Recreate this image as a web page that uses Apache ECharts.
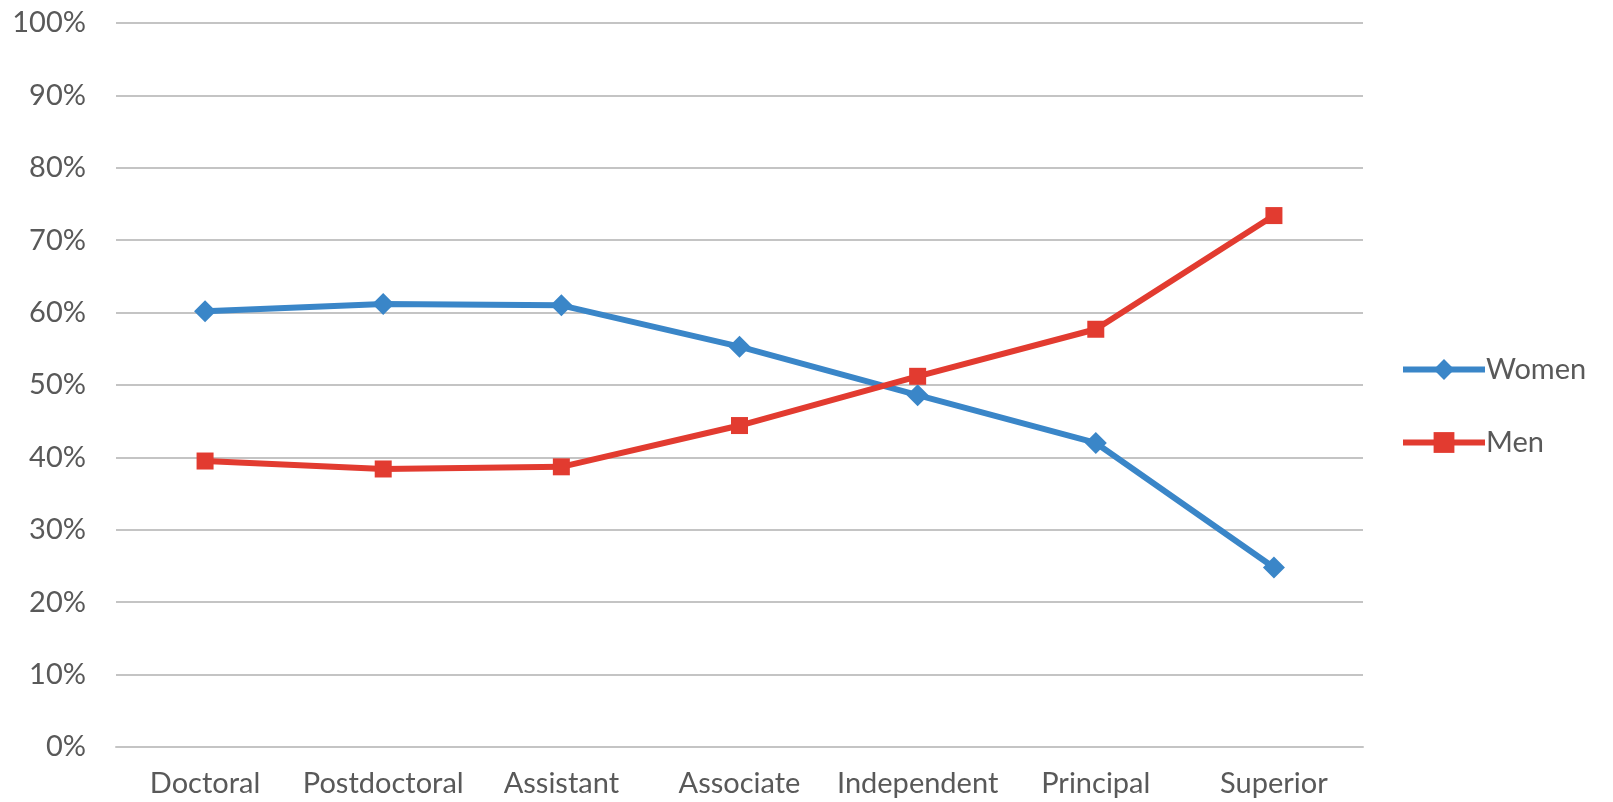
<!DOCTYPE html>
<html>
<head>
<meta charset="utf-8">
<script src="https://cdn.jsdelivr.net/npm/echarts@6/dist/echarts.min.js"></script>
<style>
  html, body { margin: 0; padding: 0; background: #ffffff; }
  #chart { width: 1613px; height: 802px; }
</style>
</head>
<body>
<div id="chart"></div>
<script>
// Career stages along the x axis
const categories = ['Doctoral', 'Postdoctoral', 'Assistant', 'Associate', 'Independent', 'Principal', 'Superior'];
// Share of each gender at each stage (percent)
const women = [60.2, 61.2, 61.0, 55.3, 48.6, 42.0, 24.8];
const men = [39.5, 38.4, 38.7, 44.4, 51.2, 57.7, 73.4];

const textColor = '#595959';
const fontFamily = 'Lato, "Open Sans", sans-serif';

const chart = echarts.init(document.getElementById('chart'));
chart.setOption({
  animation: false,
  backgroundColor: '#ffffff',
  grid: { left: 116, right: 250, top: 23, bottom: 55 },
  legend: {
    orient: 'vertical',
    left: 1395,
    top: 350,
    itemWidth: 82,
    itemHeight: 26,
    itemGap: 44,
    lineStyle: { width: 6 },
    textStyle: { color: textColor, fontSize: 29, fontFamily: fontFamily, padding: [0, 0, 0, -4] },
    data: ['Women', 'Men']
  },
  xAxis: {
    type: 'category',
    data: categories,
    boundaryGap: true,
    axisLine: { show: true, lineStyle: { color: '#c4c4c4', width: 2 } },
    axisTick: { show: false },
    axisLabel: { interval: 0, color: textColor, fontSize: 29, fontFamily: fontFamily, margin: 22 }
  },
  yAxis: {
    type: 'value',
    min: 0,
    max: 100,
    interval: 10,
    axisLine: { show: false },
    axisTick: { show: false },
    splitLine: { lineStyle: { color: '#c4c4c4', width: 2 } },
    axisLabel: { color: textColor, fontSize: 29, fontFamily: fontFamily, margin: 30, formatter: '{value}%' }
  },
  series: [
    {
      name: 'Women',
      type: 'line',
      data: women,
      symbol: 'diamond',
      symbolSize: 22,
      lineStyle: { color: '#3a86c8', width: 6 },
      itemStyle: { color: '#3a86c8' }
    },
    {
      name: 'Men',
      type: 'line',
      data: men,
      symbol: 'rect',
      symbolSize: 17,
      lineStyle: { color: '#e23b30', width: 6 },
      itemStyle: { color: '#e23b30' }
    }
  ]
});
</script>
</body>
</html>
